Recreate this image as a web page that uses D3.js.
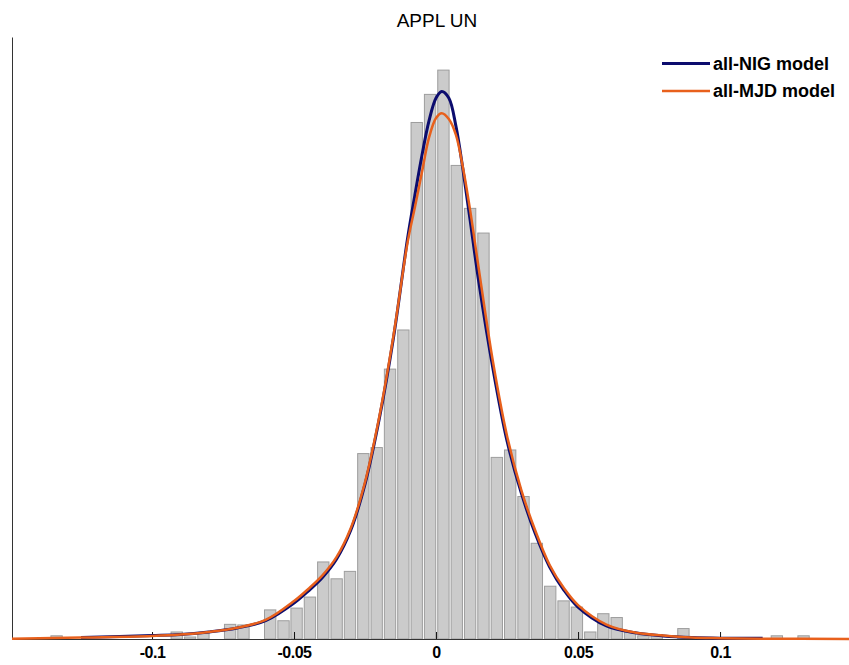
<!DOCTYPE html>
<html>
<head>
<meta charset="utf-8">
<script src="https://cdn.jsdelivr.net/npm/d3@7"></script>
<style>
  body { margin: 0; background: #fff; }
  svg { display: block; }
</style>
</head>
<body>
<svg id="mysvg"></svg>
<script>
// histogram bins (centre of each bin) and bar heights (density)
var binCenters = [-0.1336, -0.0913, -0.0866, -0.0819, -0.0725, -0.0678, -0.0584, -0.0537,
    -0.0491, -0.0444, -0.0397, -0.0350, -0.0303, -0.0256, -0.0209, -0.0162, -0.0115,
    -0.0068, -0.0021, 0.0026, 0.0073, 0.0120, 0.0167, 0.0214, 0.0261, 0.0308, 0.0355,
    0.0402, 0.0449, 0.0496, 0.0543, 0.0589, 0.0636, 0.0683, 0.0730, 0.0777, 0.0871,
    0.1200, 0.1294];
var binHeights = [0.16, 0.35, 0.10, 0.27, 0.73, 0.70, 1.45, 0.91,
    1.54, 2.09, 3.84, 3.00, 3.37, 9.24, 9.54, 13.45, 15.40,
    25.74, 27.14, 28.35, 23.60, 21.46, 20.23, 9.05, 9.42, 7.10, 4.77,
    2.63, 1.90, 1.59, 0.35, 1.26, 1.07, 0.35, 0.16, 0.22, 0.52,
    0.16, 0.16];
var binWidth = 0.004695;

// fitted densities
var nigX = [-0.125, -0.10, -0.09, -0.08, -0.07, -0.06, -0.05, -0.045, -0.04, -0.035, -0.03,
    -0.025, -0.02, -0.015, -0.01, -0.0075, -0.005, -0.0025, 0, 0.002, 0.0045, 0.007,
    0.0095, 0.012, 0.015, 0.02, 0.025, 0.03, 0.035, 0.04, 0.045, 0.05, 0.06, 0.07,
    0.08, 0.09, 0.10, 0.115];
var nigY = [0.08, 0.17, 0.22, 0.35, 0.55, 0.91, 1.79, 2.39, 3.07, 3.99, 5.43,
    7.72, 10.96, 15.00, 19.98, 22.08, 24.07, 25.81, 26.96, 27.28, 26.96, 25.56,
    23.37, 20.88, 17.84, 13.50, 9.87, 7.28, 5.23, 3.59, 2.44, 1.59, 0.65, 0.31,
    0.15, 0.07, 0.04, 0.035];

var mjdX = [-0.1493, -0.125, -0.10, -0.09, -0.08, -0.07, -0.06, -0.05, -0.045, -0.04, -0.035,
    -0.03, -0.025, -0.02, -0.015, -0.01, -0.0075, -0.005, -0.0025, 0, 0.002, 0.0045,
    0.007, 0.0095, 0.012, 0.015, 0.02, 0.025, 0.03, 0.035, 0.04, 0.045, 0.05, 0.06,
    0.07, 0.08, 0.09, 0.10, 0.115, 0.1454];
var mjdY = [0.015, 0.07, 0.15, 0.22, 0.35, 0.56, 0.95, 1.89, 2.49, 3.17, 4.09,
    5.53, 7.82, 11.06, 15.10, 19.78, 21.48, 23.23, 24.97, 25.96, 26.20, 25.91,
    25.12, 23.47, 21.37, 18.49, 13.85, 10.12, 7.43, 5.38, 3.69, 2.54, 1.69, 0.72,
    0.32, 0.17, 0.07, 0.04, 0.015, 0.005];

var tickValues = [-0.1, -0.05, 0, 0.05, 0.1];
var tickLabels = ["-0.1", "-0.05", "0", "0.05", "0.1"];
var seriesNames = ["all-NIG model", "all-MJD model"];
var seriesColors = ["#0c0c6e", "#e8601c"];
var titleText = "APPL UN";

function drawChart() {
    var svg = d3.select("#mysvg")
        .attr("width", 849)
        .attr("height", 665);

    var x = d3.scaleLinear().domain([-0.1493, 0.1454]).range([12, 849]);
    var y = d3.scaleLinear().domain([0, 30]).range([639, 37]);

    var bins = binCenters.map(function(c, i) { return {c: c, h: binHeights[i]}; });

    // bars
    svg.append("g")
        .selectAll("rect")
        .data(bins)
        .enter()
        .append("rect")
        .attr("x", function(d) { return x(d.c - binWidth / 2) + 1; })
        .attr("width", function(d) { return x(d.c + binWidth / 2) - x(d.c - binWidth / 2) - 2; })
        .attr("y", function(d) { return y(d.h); })
        .attr("height", function(d) { return y(0) - y(d.h); })
        .attr("fill", "#cbcbcb")
        .attr("stroke", "#9d9d9d")
        .attr("stroke-width", 1);

    // bottom axis, ticks pointing up into the plot
    var xAxis = svg.append("g")
        .attr("transform", "translate(0," + y(0) + ")")
        .call(d3.axisBottom(x)
            .tickValues(tickValues)
            .tickFormat(function(d, i) { return tickLabels[i]; })
            .tickSizeInner(-7)
            .tickSizeOuter(0)
            .tickPadding(8));
    xAxis.select(".domain").attr("stroke", "#333");
    xAxis.selectAll(".tick line").attr("stroke", "#111");
    xAxis.selectAll("text")
        .attr("font-family", "Liberation Sans, Arial, sans-serif")
        .attr("font-size", "16px")
        .attr("font-weight", "bold")
        .attr("letter-spacing", "-0.5px")
        .attr("fill", "#000");

    // left axis: just the spine
    var yAxis = svg.append("g")
        .attr("transform", "translate(" + x.range()[0] + ",0)")
        .call(d3.axisLeft(y).tickValues([]).tickSizeOuter(0));
    yAxis.select(".domain").attr("stroke", "#333");

    // curves
    var line = d3.line()
        .x(function(d) { return x(d[0]); })
        .y(function(d) { return y(d[1]); })
        .curve(d3.curveCatmullRom.alpha(0.5));

    svg.append("path")
        .datum(nigX.map(function(v, i) { return [v, nigY[i]]; }))
        .attr("fill", "none")
        .attr("stroke", seriesColors[0])
        .attr("stroke-width", 3)
        .attr("d", line);

    svg.append("path")
        .datum(mjdX.map(function(v, i) { return [v, mjdY[i]]; }))
        .attr("fill", "none")
        .attr("stroke", seriesColors[1])
        .attr("stroke-width", 2.5)
        .attr("d", line);

    // title
    svg.append("text")
        .attr("x", 437)
        .attr("y", 27)
        .attr("text-anchor", "middle")
        .attr("font-family", "Liberation Sans, Arial, sans-serif")
        .attr("font-size", "19px")
        .attr("fill", "#000")
        .text(titleText);

    // legend
    var legend = svg.append("g").attr("transform", "translate(662,63.5)");
    seriesNames.forEach(function(name, i) {
        legend.append("line")
            .attr("x1", 0).attr("x2", 48)
            .attr("y1", i * 27.5).attr("y2", i * 27.5)
            .attr("stroke", seriesColors[i])
            .attr("stroke-width", i == 0 ? 3 : 2.5);
        legend.append("text")
            .attr("x", 51)
            .attr("y", i * 27.5)
            .attr("dy", "0.36em")
            .attr("font-family", "Liberation Sans, Arial, sans-serif")
            .attr("font-size", "18px")
            .attr("font-weight", "bold")
            .attr("fill", "#000")
            .text(name);
    });
}

drawChart();
</script>
</body>
</html>
